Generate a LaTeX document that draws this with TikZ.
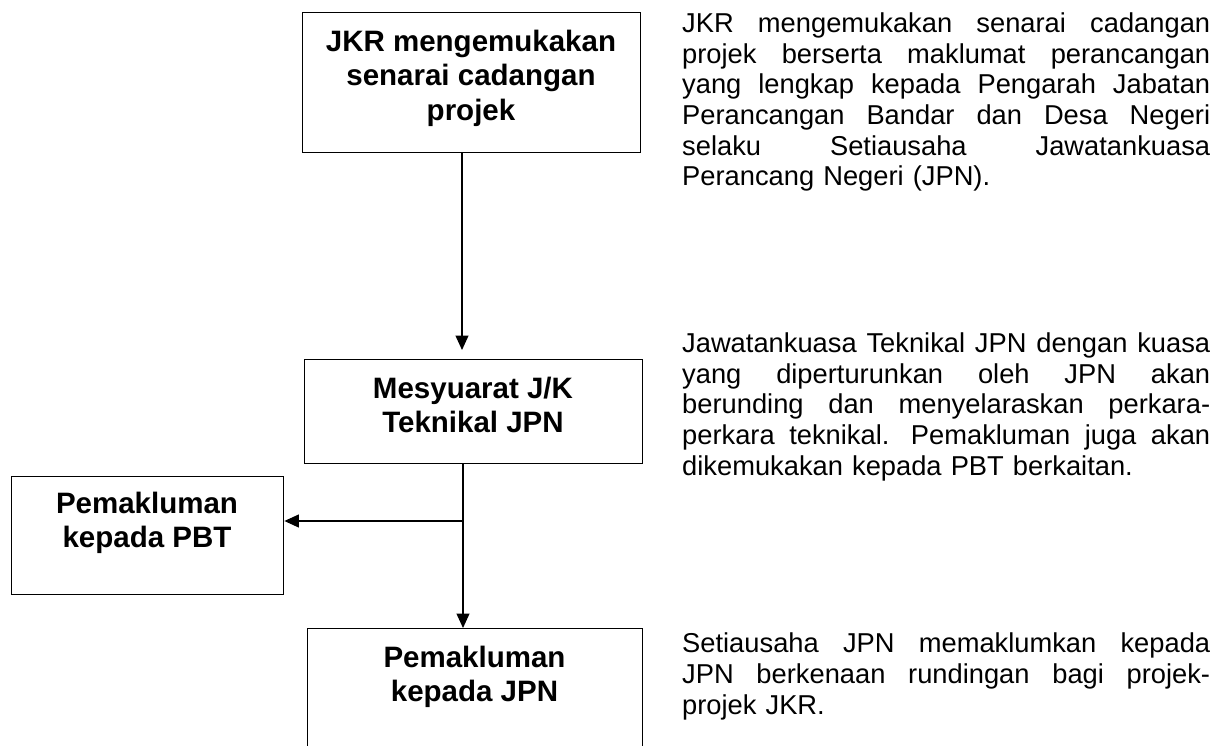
\documentclass[tikz,border=0pt]{standalone}
\usepackage{fontspec}
\setmainfont{Liberation Sans}
\usetikzlibrary{arrows.meta}
\newcommand{\jline}[1]{\leavevmode\hbox to 528bp{#1}}
\begin{document}
\begin{tikzpicture}[x=1bp,y=-1bp,
  box/.style={draw,line width=1.4bp,rectangle,inner sep=0pt,anchor=north west},
  boxtext/.style={anchor=north,inner sep=0pt,align=center,font=\bfseries\fontsize{29.5bp}{34.5bp}\selectfont},
  para/.style={anchor=north west,inner sep=0pt,text width=528bp,align=left,font=\fontsize{27.3bp}{30.7bp}\selectfont},
  conn/.style={line width=1.2bp},
  arr/.style={line width=1.2bp,-{Triangle[length=14.5bp,width=13bp]}}]
\clip (0,0) rectangle (1220,746);
\fill[white] (0,0) rectangle (1220,746);
% boxes
\node[box,minimum width=338bp,minimum height=140bp] (top) at (302,12) {};
\node[box,minimum width=338bp,minimum height=104bp] (mid) at (304,359) {};
\node[box,minimum width=272bp,minimum height=118bp] (pbt) at (11,476) {};
\node[box,minimum width=335bp,minimum height=200bp] (bot) at (307,628) {};
% box texts
\node[boxtext] (topt) at (471,29.9) {JKR mengemukakan\\senarai cadangan\\projek};
\node[boxtext] (midt) at (473,376.9) {Mesyuarat J/K\\Teknikal JPN};
\node[boxtext] (pbtt) at (147,491.9) {Pemakluman\\kepada PBT};
\node[boxtext] (bott) at (474.5,645.9) {Pemakluman\\kepada JPN};
% right-hand descriptions
\node[para] (p1) at (682,12.5) {\noindent
\jline{JKR\hfill mengemukakan\hfill senarai\hfill cadangan}\\
\jline{projek\hfill berserta\hfill maklumat\hfill perancangan}\\
\jline{yang\hfill lengkap\hfill kepada\hfill Pengarah\hfill Jabatan}\\
\jline{Perancangan\hfill Bandar\hfill dan\hfill Desa\hfill Negeri}\\
\jline{selaku\hfill Setiausaha\hfill Jawatankuasa}\\
Perancang Negeri (JPN).};
\node[para] (p2) at (682,332.5) {\noindent
\jline{Jawatankuasa\hfill Teknikal\hfill JPN\hfill dengan\hfill kuasa}\\
\jline{yang\hfill diperturunkan\hfill oleh\hfill JPN\hfill akan}\\
\jline{berunding\hfill dan\hfill menyelaraskan\hfill perkara-}\\
\jline{perkara\hfill teknikal.\hspace{7bp}\hfill Pemakluman\hfill juga\hfill akan}\\
dikemukakan kepada PBT berkaitan.};
\node[para] (p3) at (682,633) {\noindent
\jline{Setiausaha\hfill JPN\hfill memaklumkan\hfill kepada}\\
\jline{JPN\hfill berkenaan\hfill rundingan\hfill bagi\hfill projek-}\\
projek JKR.};
% connectors
\coordinate (sp) at (462,0);
\coordinate (j) at (463,521);
\coordinate (tipa) at (462,350);
\draw[arr] (top.south -| sp) -- (tipa);
\draw[conn] (mid.south -| j) -- (j);
\draw[arr] (j) -- (j -| pbt.east);
\draw[arr] (j) -- (bot.north -| j);
\end{tikzpicture}
\end{document}
